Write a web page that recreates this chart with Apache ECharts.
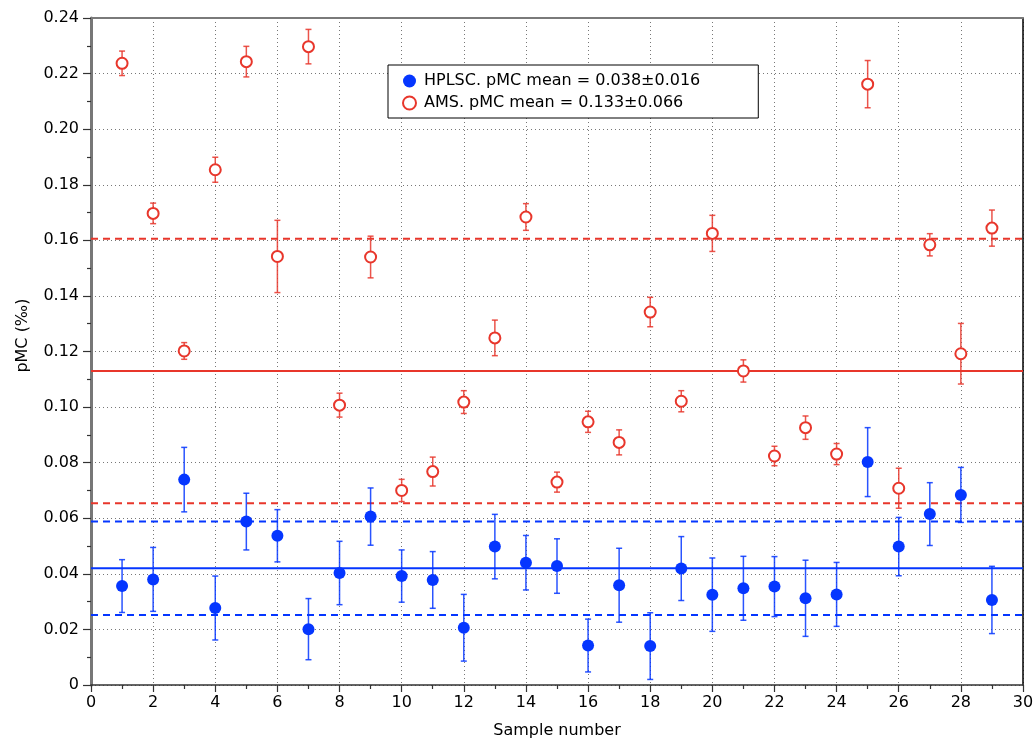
<!DOCTYPE html>
<html>
<head>
<meta charset="utf-8">
<script src="https://cdn.jsdelivr.net/npm/echarts@6/dist/echarts.min.js"></script>
<style>
html,body{margin:0;padding:0;background:#fff;overflow:hidden;}
#chart{width:1033px;height:739px;}
</style>
</head>
<body>
<div id="chart"></div>
<script>
// ---- data ----
const samples = [1,2,3,4,5,6,7,8,9,10,11,12,13,14,15,16,17,18,19,20,21,22,23,24,25,26,27,28,29];
const hplscVals = [0.0356,0.0380,0.0739,0.0277,0.0588,0.0537,0.0201,0.0403,0.0606,0.0392,0.0378,0.0206,0.0498,0.0440,0.0428,0.0142,0.0359,0.0140,0.0419,0.0325,0.0348,0.0354,0.0312,0.0326,0.0802,0.0498,0.0615,0.0684,0.0306];
const hplscErr  = [0.0095,0.0115,0.0116,0.0115,0.0102,0.0094,0.0110,0.0114,0.0103,0.0094,0.0102,0.0120,0.0116,0.0098,0.0098,0.0095,0.0133,0.0120,0.0115,0.0132,0.0115,0.0108,0.0137,0.0115,0.0124,0.0105,0.0113,0.0099,0.0121];
const amsVals   = [0.2237,0.1697,0.1202,0.1854,0.2243,0.1542,0.2297,0.1007,0.1540,0.0700,0.0768,0.1018,0.1249,0.1684,0.0730,0.0947,0.0873,0.1342,0.1021,0.1625,0.1130,0.0824,0.0926,0.0831,0.2162,0.0708,0.1584,0.1192,0.1644];
const amsErr    = [0.0044,0.0037,0.0030,0.0045,0.0055,0.0130,0.0062,0.0043,0.0075,0.0040,0.0052,0.0041,0.0064,0.0048,0.0036,0.0038,0.0045,0.0053,0.0038,0.0065,0.0040,0.0035,0.0042,0.0038,0.0085,0.0072,0.0040,0.0109,0.0065];
const hplscMean = 0.042, hplscSd = 0.0168;
const amsMean = 0.113, amsSd = 0.0476;
const xTicks = [0,2,4,6,8,10,12,14,16,18,20,22,24,26,28,30];
const yTicks = ['0','0.02','0.04','0.06','0.08','0.10','0.12','0.14','0.16','0.18','0.20','0.22','0.24'];
const hplscName = 'HPLSC. pMC mean = 0.038\u00b10.016';
const amsName = 'AMS. pMC mean = 0.133\u00b10.066';

// ---- styles ----
const RED = '#e8362b';
const BLUE = '#0536ff';
const FONT = '"DejaVu Sans", Verdana, sans-serif';

const chart = echarts.init(document.getElementById('chart'));

function errSeries(vals, errs, color, name) {
  return {
    type: 'custom',
    name: name + ' err',
    silent: true,
    z: 2,
    data: samples.map((s, i) => [s, vals[i], errs[i]]),
    renderItem: function (params, api) {
      const x = api.value(0), y = api.value(1), e = api.value(2);
      const top = api.coord([x, y + e]);
      const bot = api.coord([x, y - e]);
      const cw = 3;
      const st = { stroke: color, lineWidth: 1.5, opacity: 0.85 };
      return {
        type: 'group',
        children: [
          { type: 'line', shape: { x1: top[0], y1: top[1], x2: bot[0], y2: bot[1] }, style: st },
          { type: 'line', shape: { x1: top[0] - cw, y1: top[1], x2: top[0] + cw, y2: top[1] }, style: st },
          { type: 'line', shape: { x1: bot[0] - cw, y1: bot[1], x2: bot[0] + cw, y2: bot[1] }, style: st }
        ]
      };
    }
  };
}

function hLine(v, color, dashed) {
  return {
    type: 'line',
    silent: true,
    symbol: 'none',
    z: 1,
    data: [[0, v], [30, v]],
    lineStyle: { color: color, width: 2, type: dashed ? [7, 5] : 'solid' },
    emphasis: { disabled: true },
    tooltip: { show: false }
  };
}

const option = {
  animation: false,
  backgroundColor: '#fff',
  textStyle: { fontFamily: FONT },
  grid: { left: 91, right: 10, top: 18, bottom: 54, containLabel: false, outerBoundsMode: 'none' },
  legend: {
    left: 388, top: 65,
    orient: 'vertical',
    selectedMode: false,
    backgroundColor: '#fff',
    borderColor: '#000',
    borderWidth: 1,
    borderRadius: 0,
    padding: [8, 58, 7, 14],
    itemGap: 6,
    itemWidth: 13,
    itemHeight: 13,
    textStyle: { fontSize: 16, color: '#000', fontFamily: FONT, padding: [0, 0, 0, 3] },
    data: [
      { name: hplscName, icon: 'circle', itemStyle: { color: BLUE, borderWidth: 0 } },
      { name: amsName, icon: 'circle', itemStyle: { color: '#fff', borderColor: RED, borderWidth: 2 } }
    ]
  },
  xAxis: [{
    type: 'value', min: 0, max: 30, interval: 2,
    name: 'Sample number', nameLocation: 'middle', nameGap: 38,
    nameTextStyle: { fontSize: 16, color: '#000', fontFamily: FONT },
    axisLine: { show: true, onZero: false, lineStyle: { color: '#333', width: 1.5 } },
    axisTick: { show: true, length: 7, lineStyle: { color: '#333', width: 1.2 } },
    minorTick: { show: true, splitNumber: 2, length: 4, lineStyle: { color: '#333', width: 1.2 } },
    axisLabel: { fontSize: 16, color: '#000', margin: 10, fontFamily: FONT,
      formatter: v => String(xTicks[xTicks.indexOf(v)] ?? v) },
    splitLine: { show: true, lineStyle: { color: '#777', width: 1, type: [1, 3] } }
  }, {
    type: 'value', min: 0, max: 30, position: 'top',
    axisLine: { show: true, onZero: false, lineStyle: { color: '#7a7a7a', width: 2 } },
    axisTick: { show: false }, axisLabel: { show: false }, splitLine: { show: false }
  }],
  yAxis: [{
    type: 'value', min: 0, max: 0.24, interval: 0.02,
    name: 'pMC (\u2030)', nameLocation: 'middle', nameGap: 60,
    nameTextStyle: { fontSize: 16, color: '#000', fontFamily: FONT, padding: [0, 0, 0, 32] },
    axisLine: { show: true, onZero: false, lineStyle: { color: '#777', width: 3 } },
    axisTick: { show: true, length: 8, lineStyle: { color: '#333', width: 1.2 } },
    minorTick: { show: true, splitNumber: 2, length: 4, lineStyle: { color: '#333', width: 1.2 } },
    axisLabel: { fontSize: 16, color: '#000', margin: 12, fontFamily: FONT,
      formatter: v => yTicks[Math.round(v / 0.02)] },
    splitLine: { show: true, lineStyle: { color: '#777', width: 1, type: [1, 3] } }
  }, {
    type: 'value', min: 0, max: 0.24, position: 'right',
    axisLine: { show: true, onZero: false, lineStyle: { color: '#000', width: 1.5 } },
    axisTick: { show: false }, axisLabel: { show: false }, splitLine: { show: false }
  }],
  series: [
    hLine(amsMean, RED, false),
    hLine(amsMean + amsSd, RED, true),
    hLine(amsMean - amsSd, RED, true),
    hLine(hplscMean, BLUE, false),
    hLine(hplscMean + hplscSd, BLUE, true),
    hLine(hplscMean - hplscSd, BLUE, true),
    errSeries(amsVals, amsErr, RED, 'ams'),
    errSeries(hplscVals, hplscErr, BLUE, 'hplsc'),
    {
      type: 'scatter', name: amsName, z: 3,
      symbol: 'circle', symbolSize: 11,
      itemStyle: { color: '#fff', borderColor: RED, borderWidth: 2, opacity: 1 },
      data: samples.map((s, i) => [s, amsVals[i]])
    },
    {
      type: 'scatter', name: hplscName, z: 4,
      symbol: 'circle', symbolSize: 12,
      itemStyle: { color: BLUE, opacity: 1 },
      data: samples.map((s, i) => [s, hplscVals[i]])
    }
  ]
};
chart.setOption(option);
</script>
</body>
</html>
